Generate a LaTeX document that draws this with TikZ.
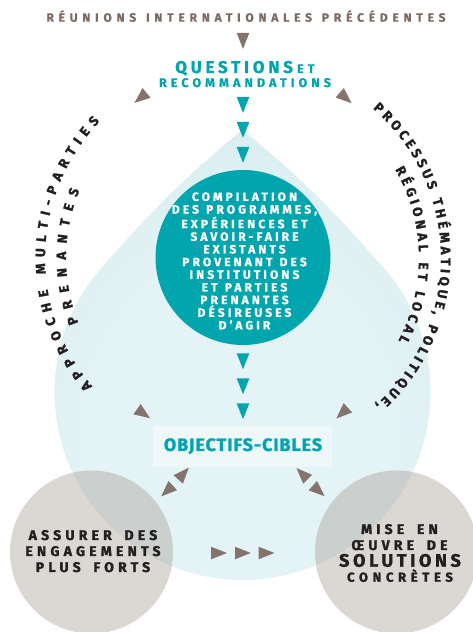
\documentclass[tikz,border=0pt]{standalone}
\usepackage{fontspec}
\setmainfont{Fira Sans}[BoldFeatures={FakeBold=1}]
\usetikzlibrary{decorations.text}
\definecolor{tealc}{HTML}{00A5AE}
\definecolor{brownc}{HTML}{85746E}
\definecolor{titlec}{HTML}{7B6B65}
\definecolor{dropin}{HTML}{E4F3F5}
\definecolor{dropout}{HTML}{C8E6EB}
\definecolor{boxc}{HTML}{F0F9FA}
\definecolor{grayc}{RGB}{167,155,147}
\definecolor{inkc}{HTML}{231F20}
\pgfdeclareradialshading{dropshade}{\pgfpoint{0bp}{-12bp}}{color(0bp)=(dropin); color(18bp)=(dropin); color(50bp)=(dropout)}
\newfontfamily\fTitle{Fira Sans}[LetterSpace=40, WordSpace=1.3, BoldFeatures={FakeBold=0.8}]
\newfontfamily\fQ{Fira Sans}[LetterSpace=22, BoldFeatures={FakeBold=1}]
\newfontfamily\fR{Fira Sans}[LetterSpace=33, BoldFeatures={FakeBold=1}]
\newfontfamily\fC{Fira Sans}[LetterSpace=26, WordSpace=1.2, BoldFeatures={FakeBold=1}]
\newfontfamily\fG{Fira Sans}[LetterSpace=30, WordSpace=1.7, BoldFeatures={FakeBold=1.5}]
\newfontfamily\fGw{Fira Sans}[LetterSpace=36, BoldFeatures={FakeBold=1.5}]
\newfontfamily\fS{Fira Sans}[LetterSpace=20, BoldFeatures={FakeBold=1.5}]
\newfontfamily\fO{Fira Sans}[LetterSpace=5, BoldFeatures={FakeBold=1.2}]
\newfontfamily\fA{Fira Sans}[BoldFeatures={FakeBold=1.5}]
\newcommand\tri[4]{\fill[#4,shift={(#1,#2)},rotate=#3] (10.5,0) -- (-5.3,6.3) -- (-5.3,-6.3) -- cycle;}
\tikzset{
  lbl/.style={anchor=base, inner sep=0, outer sep=0},
  arctext/.style={decorate, decoration={text along path, text align={fit to path}, text={|\fA\bfseries\fontsize{13.5}{15}\selectfont\color{inkc}|#1}}},
  gtext/.style={lbl, text=inkc, font=\fG\bfseries\fontsize{14}{16}\selectfont},
}
\begin{document}
\begin{tikzpicture}[x=1pt,y=1pt]
\useasboundingbox (0,0) rectangle (473,632);
\fill[white] (0,0) rectangle (473,632);
% drop
\path[shade, shading=dropshade] (242.5,502) .. controls (181,452) and (149,418) .. (102.8,365.8)
  arc[start angle=138, end angle=402, radius=188] .. controls (336,418) and (304,452) .. (242.5,502) -- cycle;
% teal circle
\node[circle, fill=tealc, minimum size=175, inner sep=0] (comp) at (243,374.5) {};
% gray circles
\node[circle, fill=grayc, fill opacity=0.4, minimum size=163, inner sep=0] (left) at (91.5,80) {};
\node[circle, fill=grayc, fill opacity=0.4, minimum size=163, inner sep=0] (right) at (396.5,80) {};
% box
\node[fill=boxc, fill opacity=0.85, minimum width=179, minimum height=41, inner sep=0] (obj) at (242.5,185.5) {};
\node[lbl, text=tealc, font=\fO\bfseries\fontsize{18}{20}\selectfont] (objt) at (243,181) {OBJECTIFS-CIBLES};
% title and questions
\node[lbl, text=titlec, font=\fTitle\bfseries\fontsize{12}{14}\selectfont] (title) at (246,610.3) {RÉUNIONS INTERNATIONALES PRÉCÉDENTES};
\node[lbl, anchor=base east, text=tealc, font=\fQ\bfseries\fontsize{17}{18}\selectfont] (q1) at (293,559) {QUESTIONS};
\node[lbl, anchor=base west, text=tealc, font=\fR\bfseries\fontsize{12.5}{14}\selectfont] (q1b) at (297,559) {ET};
\node[lbl, text=tealc, font=\fR\bfseries\fontsize{12.5}{14}\selectfont] (q2) at (245,545) {RECOMMANDATIONS};
% circle text
\node[align=center, text=white, font=\fC\bfseries\fontsize{12}{12.66}\selectfont, inner sep=0] (ctext) at (244.5,371) {COMPILATION\\DES PROGRAMMES,\\EXPÉRIENCES ET\\SAVOIR-FAIRE\\EXISTANTS\\PROVENANT DES\\INSTITUTIONS\\ET PARTIES\\PRENANTES\\DÉSIREUSES\\D’AGIR};
% gray circle texts
\node[gtext] (l1) at (93,92) {ASSURER DES};
\node[gtext] (l2) at (93,76) {ENGAGEMENTS};
\node[gtext] (l3) at (93,60) {PLUS FORTS};
\node[gtext] (r1) at (399.5,98) {MISE EN};
\node[gtext] (r2) at (399.5,82) {ŒUVRE DE};
\node[lbl, text=inkc, font=\fS\bfseries\fontsize{18}{20}\selectfont] (r3) at (400,65.3) {SOLUTIONS};
\node[lbl, text=inkc, font=\fGw\bfseries\fontsize{13}{15}\selectfont] (r4) at (400,50.3) {CONCRÈTES};
% arc texts
\path[arctext={APPROCHE MULTI-PARTIES}] ([shift={(220.4:198)}]243,374) arc[start angle=220.4, end angle=136.4, radius=198];
\path[arctext={PRENANTES}] ([shift={(201.5:177)}]243,374) arc[start angle=201.5, end angle=157.5, radius=177];
\path[arctext={PROCESSUS THÉMATIQUE, POLITIQUE,}] ([shift={(49:198)}]243,374) arc[start angle=49, end angle=-48, radius=198];
\path[arctext={RÉGIONAL ET LOCAL}] ([shift={(30.2:176)}]243,374) arc[start angle=30.2, end angle=-28, radius=176];
% arrows
\tri{243}{529.7}{-90}{tealc}
\tri{243}{504.7}{-90}{tealc}
\tri{243}{479.7}{-90}{tealc}
\tri{243}{273.3}{-90}{tealc}
\tri{243}{248.3}{-90}{tealc}
\tri{243}{223.3}{-90}{tealc}
\tri{243}{593.7}{-90}{brownc}
\tri{142.5}{535.7}{219.6}{brownc}
\tri{343.7}{535.7}{-41}{brownc}
\tri{141.4}{219.8}{-35}{brownc}
\tri{344}{220.6}{223}{brownc}
\tri{181.8}{156.5}{48}{brownc}
\tri{168.9}{142.8}{223}{brownc}
\tri{303.9}{156.5}{135}{brownc}
\tri{316.8}{142.8}{-42}{brownc}
\tri{216.4}{79}{0}{brownc}
\tri{240.3}{79}{0}{brownc}
\tri{263.9}{79}{0}{brownc}
\end{tikzpicture}
\end{document}
